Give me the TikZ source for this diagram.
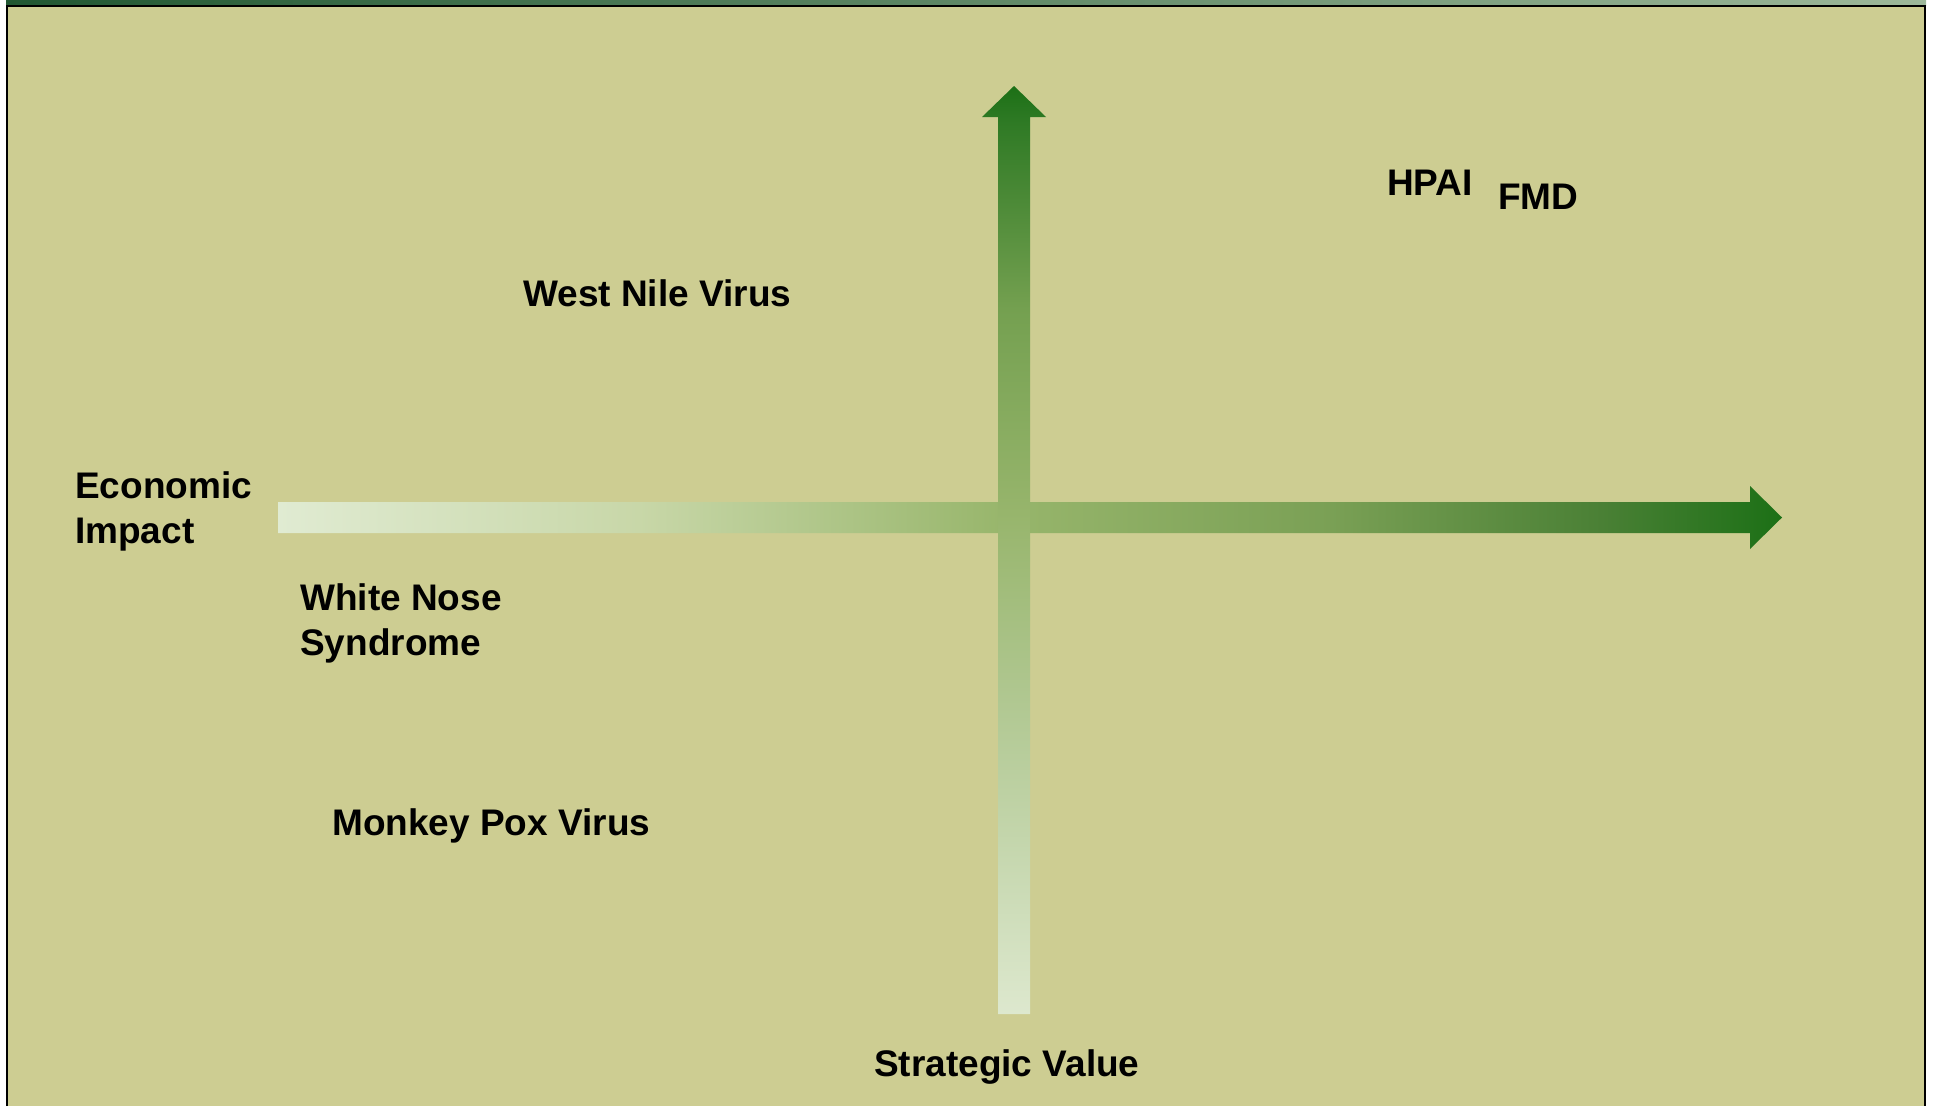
\documentclass[tikz,border=0pt]{standalone}
\usepackage{fontspec}
\setmainfont{Liberation Sans}
\definecolor{bgc}{HTML}{CDCD92}
\definecolor{stripL}{HTML}{215732}
\definecolor{stripR}{HTML}{9DB89A}
\definecolor{hA}{HTML}{E0EBD2}
\definecolor{hB}{HTML}{C8D7A8}
\definecolor{hC}{HTML}{98B66C}
\definecolor{hD}{HTML}{7AA055}
\definecolor{hE}{HTML}{4A8035}
\definecolor{hF}{HTML}{1C7016}
\definecolor{vA}{HTML}{DDE8CE}
\definecolor{vB}{HTML}{B5CB98}
\definecolor{vC}{HTML}{97B56C}
\definecolor{vD}{HTML}{74A050}
\definecolor{vE}{HTML}{2F7A25}
\definecolor{vF}{HTML}{1C7016}
\pgfdeclarehorizontalshading{hshade}{100bp}{color(0bp)=(hA); color(25bp)=(hA); color(37bp)=(hB); color(49bp)=(hC); color(60bp)=(hD); color(69bp)=(hE); color(75bp)=(hF); color(100bp)=(hF)}
\pgfdeclareverticalshading{vshade}{100bp}{color(0bp)=(vA); color(25bp)=(vA); color(40bp)=(vB); color(52bp)=(vC); color(63bp)=(vD); color(73bp)=(vE); color(75bp)=(vF); color(100bp)=(vF)}
\tikzset{
  lbl/.style={anchor=base west, inner sep=0pt, font=\fontsize{37}{45}\selectfont\bfseries, text=black, align=left}
}
\begin{document}
\begin{tikzpicture}[x=1pt,y=-1pt]
\useasboundingbox (0,0) rectangle (1935,1106);
\fill[white] (0,0) rectangle (1935,1106);
% top strip
\shade[left color=stripL, right color=stripR] (6,0) rectangle (1926,5);
% panel
\fill[bgc] (6,5) rectangle (1926,1106);
\draw[line width=2pt] (7,1106) -- (7,6) -- (1925,6) -- (1925,1106);
% horizontal arrow
\shade[shading=hshade]
  (278,502) -- (1750,502) -- (1750,486) -- (1782,517.5) -- (1750,549) -- (1750,533) -- (278,533) -- cycle;
% vertical arrow
\shade[shading=vshade]
  (998,1014) -- (998,117) -- (982,117) -- (1014,86) -- (1046,117) -- (1030,117) -- (1030,1014) -- cycle;
% labels
\node[lbl] (hpai) at (1387,195) {HPAI};
\node[lbl] (fmd) at (1498,209) {FMD};
\node[lbl] (wnv) at (523,306) {West Nile Virus};
\node[lbl] (econ) at (75,543) {Economic\\Impact};
\node[lbl] (wns) at (300,655) {White Nose\\Syndrome};
\node[lbl] (mpv) at (332,835) {Monkey Pox Virus};
\node[lbl] (strat) at (874,1076) {Strategic Value};
\end{tikzpicture}
\end{document}
